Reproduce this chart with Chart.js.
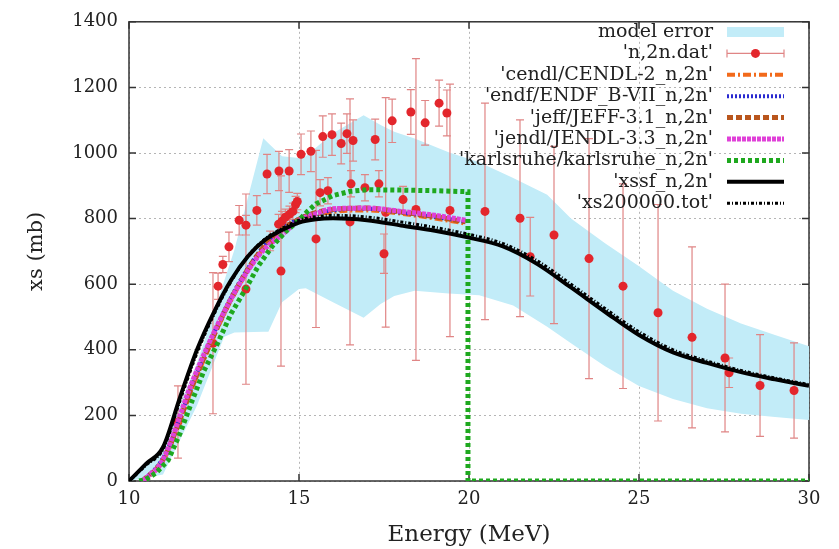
<!DOCTYPE html>
<html lang="en">

<head>
    <meta charset="UTF-8">
    <title>n,2n cross section</title>
    <script src="https://cdn.jsdelivr.net/npm/chart.js"></script>
    <style>
        body {
            margin: 0;
            background: #ffffff;
        }

        canvas {
            display: block;
        }
    </style>
</head>

<body>
    <canvas id="xsChart" width="839" height="549"></canvas>

    <script>
// model error band
const bandE     = [10, 11, 12, 12.8, 13.1, 13.95, 14.1, 14.5, 15, 15.2, 16, 16.9, 17.4, 17.8, 18.4, 19.4, 20.3, 21.3, 22.3, 23, 24, 25, 26, 27, 28, 29, 30];
const bandUpper = [0, 105, 360, 610, 705, 1045, 1030, 990, 985, 990, 1060, 1115, 1085, 1065, 1044, 1002, 972, 924, 873, 800, 725, 655, 580, 525, 480, 445, 411];
const bandLower = [0, 20, 230, 440, 453, 455, 455, 545, 585, 588, 545, 498, 540, 564, 580, 572, 566, 535, 470, 420, 350, 290, 250, 222, 205, 195, 186];

// 'n,2n.dat' experimental points
const expE   = [11.44, 12.47, 12.62, 12.76, 12.94, 13.24, 13.44, 13.44, 13.76, 14.06, 14.15, 14.4, 14.41, 14.47, 14.5, 14.6, 14.71, 14.72, 14.82, 14.9, 14.95, 15.06, 15.35, 15.5, 15.62, 15.7, 15.85, 15.97, 16.24, 16.41, 16.5, 16.53, 16.59, 16.94, 17.24, 17.35, 17.5, 17.55, 17.74, 18.06, 18.29, 18.44, 18.71, 19.12, 19.35, 19.44, 20.47, 21.5, 21.8, 22.5, 23.53, 24.53, 25.56, 26.56, 27.53, 27.65, 28.56, 29.56];
const expXs  = [180, 420, 594, 660, 714, 795, 585, 780, 825, 936, 732, 783, 945, 640, 792, 804, 945, 813, 822, 843, 852, 996, 1005, 738, 879, 1050, 885, 1056, 1029, 1059, 790, 906, 1038, 894, 1041, 906, 693, 819, 1098, 858, 1125, 828, 1092, 1152, 1122, 825, 822, 801, 684, 750, 678, 594, 513, 438, 375, 330, 291, 276];
const expErr = [110, 215, 40, 25, 45, 45, 290, 30, 45, 60, 30, 30, 60, 290, 30, 25, 65, 25, 25, 25, 25, 62, 62, 270, 40, 63, 40, 63, 62, 60, 375, 40, 63, 40, 62, 40, 60, 350, 66, 40, 68, 460, 68, 70, 70, 385, 330, 300, 120, 270, 366, 312, 330, 276, 225, 45, 155, 145];

// evaluated libraries
const cendlE  = [10.4, 11, 12, 13, 14, 15, 16, 17, 18, 19, 19.9];
const cendlXs = [0, 60, 320, 550, 715, 795, 820, 825, 815, 800, 785];
const endfE   = [10.4, 11, 12, 13, 14, 15, 16, 17, 18, 19, 19.9];
const endfXs  = [0, 70, 330, 560, 720, 800, 825, 830, 818, 805, 790];
const jeffE   = [10.4, 11, 12, 13, 14, 15, 16, 17, 18, 19, 19.9];
const jeffXs  = [0, 65, 325, 555, 718, 798, 828, 832, 820, 806, 790];
const jendlE  = [10.4, 11, 11.85, 12.82, 13.79, 14.6, 15, 15.5, 16, 17, 18, 19, 19.9];
const jendlXs = [0, 65, 300, 520, 684, 760, 795, 815, 830, 832, 822, 810, 795];
const karlE   = [10.3, 10.5, 10.8, 11.15, 11.5, 11.85, 12.2, 12.62, 13, 13.41, 13.8, 14.2, 14.6, 14.97, 15.25, 15.5, 16, 16.5, 17, 18, 19, 19.97, 19.97, 30];
const karlXs  = [0, 5, 25, 63, 145, 243, 335, 423, 510, 582, 655, 714, 760, 792, 822, 845, 870, 883, 888, 887, 885, 882, 0, 0];

// model calculations
const xssfE   = [10, 10.5, 11, 11.5, 12, 12.5, 13, 13.5, 14, 14.5, 15, 15.5, 16, 17, 18, 19, 20, 21, 22, 23, 24, 25, 26, 27, 28, 29, 30];
const xssfXs  = [0, 52, 103, 255, 400, 515, 612, 685, 735, 765, 788, 798, 801, 795, 779, 763, 742, 715, 662, 590, 516, 445, 392, 360, 332, 310, 290];
const totE    = [10, 10.5, 11, 11.5, 12, 12.5, 13, 13.5, 14, 14.5, 15, 15.5, 16, 17, 18, 19, 20, 21, 22, 23, 24, 25, 26, 27, 28, 29, 30];
const totXs   = [0, 48, 97, 245, 390, 508, 608, 686, 738, 770, 795, 806, 810, 805, 790, 773, 752, 724, 672, 600, 526, 455, 400, 366, 337, 314, 294];

const xTicks = [10, 15, 20, 25, 30];
const yTicks = [0, 200, 400, 600, 800, 1000, 1200, 1400];

const keyLabels = ["model error", "'n,2n.dat'", "'cendl/CENDL-2_n,2n'", "'endf/ENDF_B-VII_n,2n'",
  "'jeff/JEFF-3.1_n,2n'", "'jendl/JENDL-3.3_n,2n'", "'karlsruhe/karlsruhe_n,2n'", "'xssf_n,2n'", "'xs200000.tot'"];

const serif = '"DejaVu Serif", "Liberation Serif", serif';
const bandColor = '#c2ecf8';
const pointColor = '#e3262c';
const barColor = '#e08585';

function pts(xs, ys) {
  return xs.map((x, i) => ({ x: x, y: ys[i] }));
}

function curve(label, xs, ys, color, width, dash, order, smooth) {
  return {
    label: label,
    data: pts(xs, ys),
    showLine: true,
    borderColor: color,
    borderWidth: width,
    borderDash: dash,
    pointRadius: 0,
    fill: false,
    cubicInterpolationMode: smooth ? 'monotone' : 'default',
    order: order
  };
}

const datasets = [
  { label: 'upper', data: pts(bandE, bandUpper), showLine: true, borderWidth: 0, pointRadius: 0,
    backgroundColor: bandColor, fill: '+1', order: 20 },
  { label: 'lower', data: pts(bandE, bandLower), showLine: true, borderWidth: 0, pointRadius: 0,
    fill: false, order: 19 },
  { label: 'exp', data: pts(expE, expXs), showLine: false, pointRadius: 4.5,
    pointBackgroundColor: pointColor, pointBorderColor: pointColor, pointBorderWidth: 0, order: 10 },
  curve('cendl', cendlE, cendlXs, '#f26a1b', 4, [8, 3, 2, 3], 9, true),
  curve('endf', endfE, endfXs, '#2a2ad0', 4, [2, 2], 8, true),
  curve('jeff', jeffE, jeffXs, '#b9561d', 5, [6, 3], 7, true),
  curve('jendl', jendlE, jendlXs, '#e040d8', 5, [4, 1], 6, true),
  curve('karlsruhe', karlE, karlXs, '#1ea81e', 5, [4, 3], 5, false),
  curve('xssf', xssfE, xssfXs, '#000000', 4, [], 4, true),
  curve('tot', totE, totXs, '#000000', 3, [3, 2, 1, 2], 3, true)
];

// vertical error bars for the experimental set, drawn beneath its markers
const errorBars = {
  id: 'errorBars',
  beforeDatasetDraw(chart, args) {
    if (chart.data.datasets[args.index].label !== 'exp') return;
    const { ctx, scales: { x, y } } = chart;
    ctx.save();
    ctx.strokeStyle = barColor;
    ctx.lineWidth = 1.2;
    expE.forEach((e, i) => {
      const px = x.getPixelForValue(e);
      const top = y.getPixelForValue(Math.min(expXs[i] + expErr[i], 1400));
      const bot = y.getPixelForValue(expXs[i] - expErr[i]);
      ctx.beginPath();
      ctx.moveTo(px, top); ctx.lineTo(px, bot);
      ctx.moveTo(px - 4, top); ctx.lineTo(px + 4, top);
      ctx.moveTo(px - 4, bot); ctx.lineTo(px + 4, bot);
      ctx.stroke();
    });
    ctx.restore();
  }
};

// gnuplot-like frame with inward ticks on all four sides
const frame = {
  id: 'frame',
  beforeDatasetsDraw(chart) {
    const { ctx, chartArea: a, scales: { x, y } } = chart;
    ctx.save();
    ctx.strokeStyle = '#333333';
    ctx.lineWidth = 1.5;
    ctx.strokeRect(a.left, a.top, a.right - a.left, a.bottom - a.top);
    ctx.beginPath();
    xTicks.forEach(t => {
      const px = x.getPixelForValue(t);
      ctx.moveTo(px, a.bottom); ctx.lineTo(px, a.bottom - 7);
      ctx.moveTo(px, a.top); ctx.lineTo(px, a.top + 7);
    });
    yTicks.forEach(t => {
      const py = y.getPixelForValue(t);
      ctx.moveTo(a.left, py); ctx.lineTo(a.left + 7, py);
      ctx.moveTo(a.right, py); ctx.lineTo(a.right - 7, py);
    });
    ctx.stroke();
    ctx.restore();
  }
};

// key in the top right corner: text right aligned, sample on its right
const gnuKey = {
  id: 'gnuKey',
  afterDatasetsDraw(chart) {
    const ctx = chart.ctx;
    const textRight = 713, x0 = 727, x1 = 784, top = 32, step = 21.4;
    const ds = chart.data.datasets;
    ctx.save();
    ctx.font = '19px ' + serif;
    ctx.textAlign = 'right';
    ctx.textBaseline = 'middle';
    keyLabels.forEach((label, i) => {
      const yy = top + i * step;
      ctx.fillStyle = '#222222';
      ctx.fillText(label, textRight, yy);
      if (i === 0) {
        ctx.fillStyle = bandColor;
        ctx.fillRect(x0, yy - 5, x1 - x0, 10);
      } else if (i === 1) {
        ctx.strokeStyle = barColor;
        ctx.lineWidth = 1.2;
        ctx.beginPath();
        ctx.moveTo(x0, yy); ctx.lineTo(x1, yy);
        ctx.moveTo(x0, yy - 4); ctx.lineTo(x0, yy + 4);
        ctx.moveTo(x1, yy - 4); ctx.lineTo(x1, yy + 4);
        ctx.stroke();
        ctx.fillStyle = pointColor;
        ctx.beginPath();
        ctx.arc((x0 + x1) / 2, yy, 4.5, 0, Math.PI * 2);
        ctx.fill();
      } else {
        const d = ds[i + 1];
        ctx.strokeStyle = d.borderColor;
        ctx.lineWidth = d.borderWidth;
        ctx.setLineDash(d.borderDash);
        ctx.beginPath();
        ctx.moveTo(x0, yy); ctx.lineTo(x1, yy);
        ctx.stroke();
        ctx.setLineDash([]);
      }
    });
    ctx.restore();
  }
};

const ctx = document.getElementById('xsChart').getContext('2d');
new Chart(ctx, {
  type: 'scatter',
  data: { datasets: datasets },
  plugins: [errorBars, frame, gnuKey],
  options: {
    responsive: false,
    animation: false,
    layout: { padding: { top: 15, right: 30, left: 0, bottom: 0 } },
    plugins: {
      legend: { display: false },
      tooltip: { enabled: false }
    },
    scales: {
      x: {
        type: 'linear',
        min: 10,
        max: 30,
        afterBuildTicks: s => { s.ticks = xTicks.map(v => ({ value: v })); },
        afterFit: s => { s.height = 68; },
        ticks: { padding: 8, color: '#222222', font: { family: serif, size: 18 }, callback: v => String(v) },
        grid: { color: '#b5b5b5', lineWidth: 1, drawTicks: false },
        border: { display: false, dash: [2, 3] },
        title: { display: true, text: 'Energy (MeV)', color: '#222222',
          font: { family: serif, size: 23 }, padding: { top: 0, bottom: 0 } }
      },
      y: {
        type: 'linear',
        min: 0,
        max: 1400,
        afterBuildTicks: s => { s.ticks = yTicks.map(v => ({ value: v })); },
        afterFit: s => { s.width = 129; },
        ticks: { padding: 11, color: '#222222', font: { family: serif, size: 18 }, callback: v => String(v) },
        grid: { color: '#b5b5b5', lineWidth: 1, drawTicks: false },
        border: { display: false, dash: [2, 3] },
        title: { display: true, text: 'xs (mb)', color: '#222222',
          font: { family: serif, size: 21 }, padding: { top: 24, bottom: 0 } }
      }
    }
  }
});
    </script>
</body>

</html>
